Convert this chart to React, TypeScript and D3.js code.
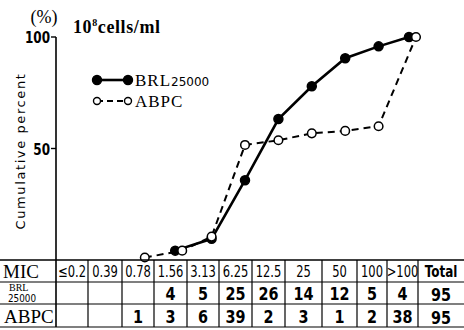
import { useEffect, useRef } from "react";
import * as d3 from "d3";

// MIC categories (µg/ml) and counts of strains per MIC
const micLabels = ["≤0.2", "0.39", "0.78", "1.56", "3.13", "6.25", "12.5", "25", "50", "100", ">100"];
const brlCounts = [null, null, null, 4, 5, 25, 26, 14, 12, 5, 4];
const abpcCounts = [null, null, 1, 3, 6, 39, 2, 3, 1, 2, 38];
const brlTotal = 95;
const abpcTotal = 95;

// cumulative percent
const brlCumulative = [null, null, null, 4.2, 9.5, 35.8, 63.2, 77.9, 90.5, 95.8, 100];
const abpcCumulative = [null, null, 1.1, 4.2, 10.5, 51.6, 53.7, 56.8, 57.9, 60.0, 100];

const yTicks = [50, 100];

const W = 464;
const H = 330;

const App = () => {
  const ref = useRef<SVGSVGElement | null>(null);

  useEffect(() => {
    if (!ref.current) return;
    const svg = d3.select(ref.current);
    svg.selectAll("*").remove();

    const serif = "'Liberation Serif', 'DejaVu Serif', serif";
    const sans = "'DejaVu Sans', sans-serif";

    // condensed text: horizontally squeezed around its anchor point
    const narrowText = (
      tx: number, ty: number, txt: string | number,
      size: number, sx: number, anchor: string, weight = "normal"
    ) =>
      svg.append("text")
        .attr("transform", `translate(${tx},${ty}) scale(${sx},1)`)
        .attr("text-anchor", anchor)
        .style("font-family", sans)
        .style("font-size", `${size}px`)
        .style("font-weight", weight)
        .text(txt);

    const axisX = 56;
    const tableTop = 260;
    const rowLines = [tableTop, 282, 304, 327];
    // table column edges (label column, 11 MIC columns, total)
    const colEdges = [0, axisX, 88, 122, 154, 187, 219, 252, 285, 322, 357, 387, 418, W];

    const x = d3.scalePoint<string>().domain(micLabels).range([78, 412]);
    const y = d3.scaleLinear().domain([0, 100]).range([tableTop, 37]);

    // y axis
    svg.append("line")
      .attr("x1", axisX).attr("x2", axisX)
      .attr("y1", y(100)).attr("y2", rowLines[3])
      .attr("stroke", "#000").attr("stroke-width", 1.6);

    yTicks.forEach((t) => {
      svg.append("line")
        .attr("x1", axisX - 5).attr("x2", axisX)
        .attr("y1", y(t)).attr("y2", y(t))
        .attr("stroke", "#000").attr("stroke-width", 1.4);
      narrowText(axisX - 6, y(t) + 6, t, 16, 0.75, "end", "bold");
    });

    svg.append("text")
      .attr("x", 44).attr("y", 23)
      .attr("text-anchor", "middle")
      .style("font-family", serif)
      .style("font-size", "18px")
      .text("(%)");

    const unit = svg.append("text")
      .attr("x", 73).attr("y", 33)
      .style("font-family", serif)
      .style("font-size", "18px")
      .style("font-weight", "bold")
      .style("letter-spacing", "0.6px");
    unit.append("tspan").text("10");
    unit.append("tspan").attr("dy", -7).style("font-size", "10px").text("8");
    unit.append("tspan").attr("dy", 7).text("cells/ml");

    svg.append("text")
      .attr("transform", `translate(25,${151}) rotate(-90)`)
      .attr("text-anchor", "middle")
      .style("font-family", sans)
      .style("font-size", "13px")
      .style("letter-spacing", "1.6px")
      .text("Cumulative percent");

    // series
    const series = [
      { values: brlCumulative, filled: true, dash: null, width: 2.6, dx: -3 },
      { values: abpcCumulative, filled: false, dash: "7,5", width: 2, dx: 4 },
    ];

    series.forEach((s, si) => {
      const pts = micLabels
        .map((m, i) => ({ m, v: s.values[i], i }))
        .filter((d) => d.v !== null) as { m: string; v: number; i: number }[];
      // nudge coincident points at 100 % so both markers remain visible
      const px = (d: { m: string; v: number; i: number }) => {
        const other = series[1 - si].values[d.i];
        return (x(d.m) as number) + (other === d.v ? s.dx : 0);
      };
      const line = d3.line<{ m: string; v: number; i: number }>()
        .x(px)
        .y((d) => y(d.v));
      svg.append("path")
        .attr("d", line(pts))
        .attr("fill", "none")
        .attr("stroke", "#000")
        .attr("stroke-width", s.width)
        .attr("stroke-dasharray", s.dash);
      svg.selectAll(null)
        .data(pts)
        .enter()
        .append("circle")
        .attr("cx", px)
        .attr("cy", (d) => y(d.v))
        .attr("r", s.filled ? 4.5 : 4.3)
        .attr("fill", s.filled ? "#000" : "#fff")
        .attr("stroke", "#000")
        .attr("stroke-width", 1.5);
    });

    // legend
    const legend = [
      { label: "BRL", sub: "25000", filled: true, dash: null, width: 2.6, yy: 80 },
      { label: "ABPC", sub: "", filled: false, dash: "6,4", width: 2, yy: 101 },
    ];
    legend.forEach((l) => {
      svg.append("line")
        .attr("x1", 97).attr("x2", 128)
        .attr("y1", l.yy).attr("y2", l.yy)
        .attr("stroke", "#000").attr("stroke-width", l.width)
        .attr("stroke-dasharray", l.dash);
      [97, 128].forEach((cx) => {
        svg.append("circle")
          .attr("cx", cx).attr("cy", l.yy)
          .attr("r", l.filled ? 4.5 : 3.5)
          .attr("fill", l.filled ? "#000" : "#fff")
          .attr("stroke", "#000").attr("stroke-width", 1.4);
      });
      const t = svg.append("text")
        .attr("x", 135).attr("y", l.yy + 6)
        .style("font-family", serif)
        .style("font-size", "17px")
        .style("letter-spacing", "1px");
      t.append("tspan").text(l.label);
      if (l.sub) {
        t.append("tspan")
          .style("font-family", sans)
          .style("font-size", "12px")
          .style("letter-spacing", "0px")
          .text(l.sub);
      }
    });

    // table grid
    rowLines.forEach((ry, i) => {
      svg.append("line")
        .attr("x1", 0).attr("x2", W)
        .attr("y1", ry).attr("y2", ry)
        .attr("stroke", "#000").attr("stroke-width", i === 0 ? 1.6 : 1.2);
    });
    colEdges.slice(2, -1).forEach((cx) => {
      svg.append("line")
        .attr("x1", cx).attr("x2", cx)
        .attr("y1", rowLines[0]).attr("y2", rowLines[3])
        .attr("stroke", "#000").attr("stroke-width", 1.2);
    });

    const colCenter = (i: number) => (colEdges[i + 1] + colEdges[i + 2]) / 2;
    const rowMid = (r: number) => (rowLines[r] + rowLines[r + 1]) / 2;
    const totalX = (colEdges[12] + colEdges[13]) / 2;

    // header row
    svg.append("text")
      .attr("x", 3).attr("y", rowMid(0) + 7)
      .style("font-family", serif)
      .style("font-size", "19px")
      .text("MIC");
    micLabels.forEach((m, i) => {
      narrowText(colCenter(i), rowMid(0) + 6, m, 16, 0.72, "middle");
    });
    narrowText(totalX, rowMid(0) + 6, "Total", 16, 0.75, "middle", "bold");

    // row labels
    svg.append("text")
      .attr("x", 9).attr("y", rowLines[1] + 9)
      .style("font-family", serif)
      .style("font-size", "10px")
      .text("BRL");
    narrowText(8, rowLines[2] - 2, "25000", 11, 0.8, "start");
    svg.append("text")
      .attr("x", 4).attr("y", rowMid(2) + 7)
      .style("font-family", serif)
      .style("font-size", "19px")
      .text("ABPC");

    const rows = [
      { counts: brlCounts, total: brlTotal },
      { counts: abpcCounts, total: abpcTotal },
    ];
    rows.forEach((r, ri) => {
      r.counts.forEach((c, i) => {
        if (c === null) return;
        narrowText(colCenter(i), rowMid(ri + 1) + 7, c, 18, 0.8, "middle", "bold");
      });
      narrowText(totalX, rowMid(ri + 1) + 8, r.total, 18, 0.8, "middle", "bold");
    });
  }, []);

  return (
    <svg
      ref={ref}
      width={W}
      height={H}
      style={{ position: "absolute", left: 0, top: 0, background: "#fff" }}
    />
  );
};

export default App;
